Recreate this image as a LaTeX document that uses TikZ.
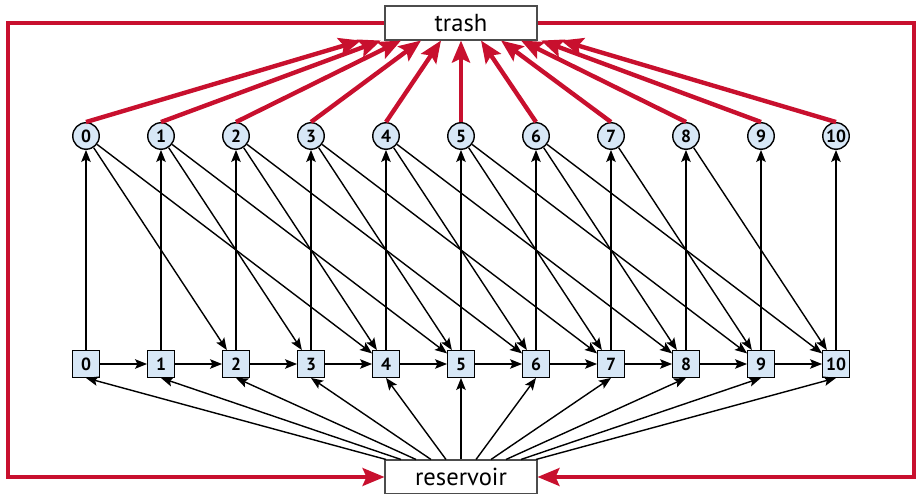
\documentclass[tikz,border=0pt]{standalone}
\usepackage{fontspec}
\setsansfont{PT Sans}
\usetikzlibrary{arrows.meta}
\definecolor{flowred}{RGB}{200,16,46}
\definecolor{nodeblue}{RGB}{215,231,246}

\begin{document}
\begin{tikzpicture}[
	font=\sffamily,
	vtx/.style={draw,line width=0.8pt,fill=nodeblue,inner sep=0pt,minimum size=0.53cm,font=\sffamily\bfseries\fontsize{10}{12}\selectfont},
	sq/.style={vtx,rectangle},
	crc/.style={vtx,circle},
	store/.style={draw=black!70,line width=0.6pt,fill=white,minimum width=3.04cm,minimum height=0.68cm,inner sep=0pt,font=\sffamily\fontsize{14}{16}\selectfont},
	arr/.style={line width=0.8pt,-{Stealth[length=2.4mm,width=1.9mm,inset=0.5mm]}},
	redarr/.style={flowred,line width=2.5pt,-{Stealth[length=4.4mm,width=3.6mm,inset=0.8mm]}}
]
	\useasboundingbox (-1.72,-2.6) rectangle (16.62,7.28);

	\foreach \i in {0,...,10} {
		\node[sq] (s\i) at (1.5*\i,0) {\i};
		\node[crc] (c\i) at (1.5*\i,4.56) {\i};
	}
	\node[store] (trash) at (7.5,6.82) {trash};
	\node[store] (res) at (7.5,-2.26) {reservoir};

	% chain along the bottom row
	\foreach \i in {0,...,9} {
		\pgfmathtruncatemacro\j{\i+1}
		\draw[arr] (s\i) -- (s\j);
	}

	\foreach \i in {0,...,10} {
		\draw[arr] (s\i) -- (c\i);
		\draw[arr] ([xshift={(\i-5)*3mm}]res.north) -- (s\i.south);
		\draw[redarr] (c\i.north) -- ([xshift={(\i-5)*4mm}]trash.south);
	}

	% circles down to the squares two and four steps on
	\foreach \i in {0,...,8} {
		\pgfmathtruncatemacro\j{\i+2}
		\draw[arr] (c\i) -- (s\j);
	}
	\foreach \i in {0,...,6} {
		\pgfmathtruncatemacro\j{\i+4}
		\draw[arr] (c\i) -- (s\j);
	}

	% back from trash to reservoir
	\coordinate (lft) at (-1.56,6.82);
	\coordinate (rgt) at (16.56,6.82);
	\draw[redarr,line width=1.9pt] (trash.west) -- (lft) |- (res.west);
	\draw[redarr,line width=1.9pt] (trash.east) -- (rgt) |- (res.east);
\end{tikzpicture}
\end{document}
